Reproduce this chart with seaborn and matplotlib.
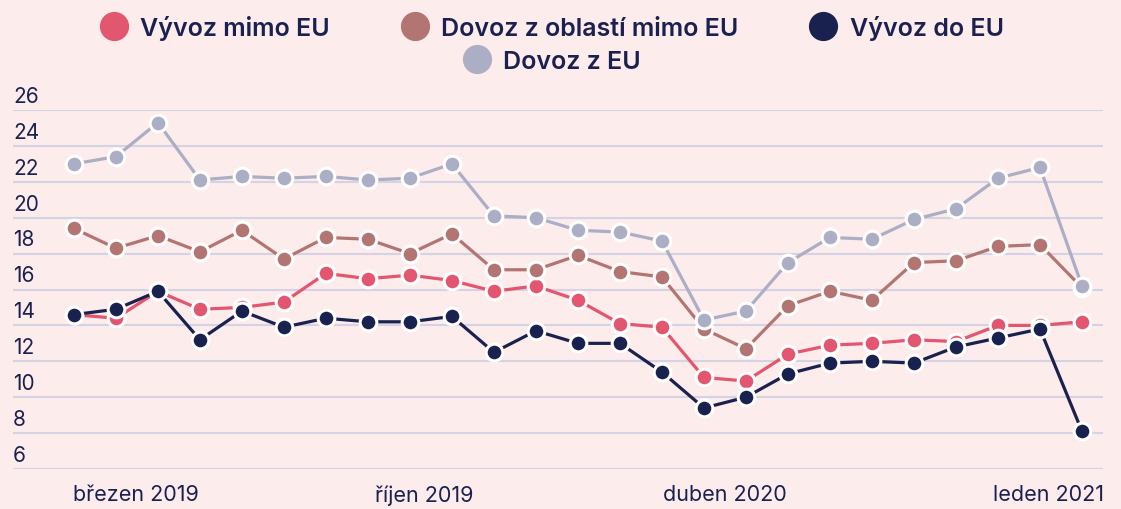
import matplotlib
matplotlib.use('Agg')
import matplotlib.pyplot as plt
import seaborn as sns
import pandas as pd
from matplotlib.lines import Line2D

# hodnoty (25 měsíců)
vyvoz_mimo_eu = [14.6, 14.4, 15.9, 14.9, 15.0, 15.3, 16.9, 16.6, 16.8, 16.5, 15.9, 16.2, 15.4,
                 14.1, 13.9, 11.1, 10.9, 12.4, 12.9, 13.0, 13.2, 13.1, 14.0, 14.0, 14.2]
dovoz_mimo_eu = [19.4, 18.3, 19.0, 18.1, 19.3, 17.7, 18.9, 18.8, 18.0, 19.1, 17.1, 17.1, 17.9,
                 17.0, 16.7, 13.8, 12.7, 15.1, 15.9, 15.4, 17.5, 17.6, 18.4, 18.5, 16.1]
vyvoz_do_eu = [14.6, 14.9, 15.9, 13.2, 14.8, 13.9, 14.4, 14.2, 14.2, 14.5, 12.5, 13.7, 13.0,
               13.0, 11.4, 9.4, 10.0, 11.3, 11.9, 12.0, 11.9, 12.8, 13.3, 13.8, 8.1]
dovoz_z_eu = [23.0, 23.4, 25.3, 22.1, 22.3, 22.2, 22.3, 22.1, 22.2, 23.0, 20.1, 20.0, 19.3,
              19.2, 18.7, 14.3, 14.8, 17.5, 18.9, 18.8, 19.9, 20.5, 22.2, 22.8, 16.2]

nazvy = ['Vývoz mimo EU', 'Dovoz z oblastí mimo EU', 'Vývoz do EU', 'Dovoz z EU']
barvy = ['#e2566f', '#b27571', '#19214f', '#abaec4']
popisky_x = ['březen 2019', 'říjen 2019', 'duben 2020', 'leden 2021']
hodnoty_y = list(range(6, 27, 2))

pozice_x = [1.48, 8.33, 15.5, 23.2]
pozadi = '#fdecec'
modra = '#1a2150'

rows = []
for nazev, serie in zip(nazvy, [vyvoz_mimo_eu, dovoz_mimo_eu, vyvoz_do_eu, dovoz_z_eu]):
    for i, v in enumerate(serie):
        rows.append({'mesic': i, 'hodnota': v, 'rada': nazev})
df = pd.DataFrame(rows)

sns.set_style('white')
plt.rcParams['font.family'] = ['Inter', 'DejaVu Sans']

fig = plt.figure(figsize=(11.21, 5.10), dpi=100, facecolor=pozadi)
ax = fig.add_axes([13 / 1121, 40 / 510, 1090 / 1121, 359 / 510])
ax.set_facecolor(pozadi)

sns.lineplot(data=df, x='mesic', y='hodnota', hue='rada', hue_order=nazvy, palette=barvy,
             marker='o', markersize=12, markeredgecolor='white', markeredgewidth=2.2,
             linewidth=2.3, legend=False, ax=ax)

ax.set_xlim(-1.45, 24.5)
ax.set_ylim(6, 26)
ax.set_yticks(hodnoty_y)
ax.set_yticklabels([])
ax.yaxis.grid(True, color='#d3d3e3', lw=1.5)
ax.set_axisbelow(True)
ax.tick_params(axis='y', left=False, length=0)
for s in ax.spines.values():
    s.set_visible(False)

for v in hodnoty_y:
    ax.annotate(str(v), xy=(0, v), xycoords=ax.get_yaxis_transform(), xytext=(0, 3),
                textcoords='offset points', ha='left', va='bottom', fontsize=15,
                color=modra, annotation_clip=False)

ax.set_xticks(pozice_x, popisky_x)
ax.tick_params(axis='x', length=0, pad=11, labelsize=15.5, labelcolor=modra)
ax.set_xlabel('')
ax.set_ylabel('')

handles = [Line2D([], [], marker='o', ls='', markersize=20, color=c) for c in barvy]
leg1 = fig.legend(handles[:3], nazvy[:3], loc='center', bbox_to_anchor=(0.493, 0.945), ncol=3,
                  frameon=False, handlelength=1.0, handletextpad=0.55, columnspacing=2.9,
                  prop={'weight': 'semibold', 'size': 18})
leg2 = fig.legend(handles[3:], nazvy[3:], loc='center', bbox_to_anchor=(0.493, 0.878),
                  frameon=False, handlelength=1.0, handletextpad=0.55,
                  prop={'weight': 'semibold', 'size': 18})
for leg in (leg1, leg2):
    for t in leg.get_texts():
        t.set_color(modra)

fig.savefig('out.png', dpi=100, facecolor=pozadi)
